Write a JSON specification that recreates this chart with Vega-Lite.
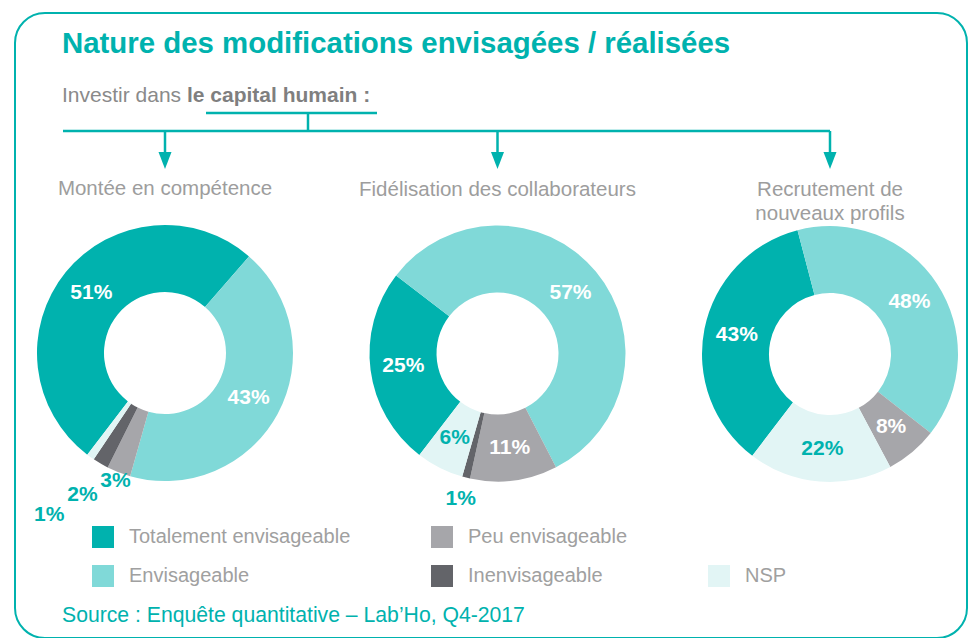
{
  "$schema": "https://vega.github.io/schema/vega-lite/v6.json",
  "width": 952,
  "height": 625,
  "autosize": {"type": "none"},
  "padding": {"left": 15, "top": 13, "right": 3, "bottom": 0},
  "background": "white",
  "title": {
    "text": "Nature des modifications envisagées / réalisées",
    "anchor": "start",
    "frame": "group",
    "orient": "top",
    "offset": -46,
    "dx": 47,
    "font": "Liberation Sans",
    "fontSize": 29.4,
    "fontWeight": "bold",
    "color": "#00B2AE"
  },
  "config": {
    "view": {"stroke": "#00B2AE", "strokeWidth": 2, "cornerRadius": 30, "fill": "white"},
    "font": "Liberation Sans"
  },
  "data": {
    "values": [
      {"chart": "Montée en compétence", "cat": "Totalement envisageable", "share": 0.51, "rang": 5},
      {"chart": "Montée en compétence", "cat": "Envisageable", "share": 0.43, "rang": 1},
      {"chart": "Montée en compétence", "cat": "Peu envisageable", "share": 0.03, "rang": 2},
      {"chart": "Montée en compétence", "cat": "Inenvisageable", "share": 0.02, "rang": 3},
      {"chart": "Montée en compétence", "cat": "NSP", "share": 0.01, "rang": 4},
      {"chart": "Fidélisation des collaborateurs", "cat": "Totalement envisageable", "share": 0.25, "rang": 5},
      {"chart": "Fidélisation des collaborateurs", "cat": "Envisageable", "share": 0.57, "rang": 1},
      {"chart": "Fidélisation des collaborateurs", "cat": "Peu envisageable", "share": 0.11, "rang": 2},
      {"chart": "Fidélisation des collaborateurs", "cat": "Inenvisageable", "share": 0.01, "rang": 3},
      {"chart": "Fidélisation des collaborateurs", "cat": "NSP", "share": 0.06, "rang": 4},
      {"chart": "Recrutement de\nnouveaux profils", "cat": "Totalement envisageable", "share": 0.43, "rang": 5},
      {"chart": "Recrutement de\nnouveaux profils", "cat": "Envisageable", "share": 0.48, "rang": 1},
      {"chart": "Recrutement de\nnouveaux profils", "cat": "Peu envisageable", "share": 0.08, "rang": 2},
      {"chart": "Recrutement de\nnouveaux profils", "cat": "NSP", "share": 0.22, "rang": 4}
    ]
  },
  "layer": [
    {
      "data": {"values": [{}]},
      "layer": [
        {"mark": {"type": "rule", "x": 48, "x2": 815, "color": "#00B2AE", "strokeWidth": 2.5}, "encoding": {"y": {"value": 118}}},
        {"mark": {"type": "rule", "y": 100, "y2": 118, "color": "#00B2AE", "strokeWidth": 2.5}, "encoding": {"x": {"value": 293}}},
        {"mark": {"type": "rule", "x": 191, "x2": 362, "color": "#00B2AE", "strokeWidth": 2.5}, "encoding": {"y": {"value": 100}}},
        {"mark": {"type": "text", "text": "Investir dans", "x": 47, "y": 89, "align": "left", "baseline": "alphabetic", "font": "Liberation Sans", "fontSize": 21, "color": "#8A8A8A"}, "encoding": {}},
        {"mark": {"type": "text", "text": "le capital humain :", "x": 172, "y": 89, "align": "left", "baseline": "alphabetic", "font": "Liberation Sans", "fontSize": 21, "fontWeight": "bold", "color": "#7F7F7F"}, "encoding": {}},
        {"mark": {"type": "text", "text": "Source : Enquête quantitative – Lab’Ho, Q4-2017", "x": 47, "y": 609, "align": "left", "baseline": "alphabetic", "font": "Liberation Sans", "fontSize": 21.2, "color": "#00B2AE"}, "encoding": {}}
      ]
    },
    {
      "transform": [{"aggregate": [{"op": "count", "as": "n"}], "groupby": ["chart"]}],
      "encoding": {
        "x": {"field": "chart", "type": "nominal", "axis": null, "scale": {"type": "point", "domain": ["Montée en compétence", "Fidélisation des collaborateurs", "Recrutement de\nnouveaux profils"], "range": [150, 815], "padding": 0}}
      },
      "layer": [
        {"mark": {"type": "text", "dy": -158, "baseline": "alphabetic", "align": "center", "lineBreak": "\n", "lineHeight": 24, "font": "Liberation Sans", "fontSize": 20.5, "color": "#9D9D9D"},
         "encoding": {
           "y": {"field": "chart", "type": "nominal", "axis": null, "scale": {"type": "point", "domain": ["Montée en compétence", "Fidélisation des collaborateurs", "Recrutement de\nnouveaux profils"], "range": [340, 341], "padding": 0}},
           "text": {"field": "chart", "type": "nominal"}
         }},
        {"mark": {"type": "rule", "y": 118, "y2": 140, "color": "#00B2AE", "strokeWidth": 2.5}},
        {"mark": {"type": "point", "shape": "M-0.5,-0.65L0.5,-0.65L0,0.65Z", "size": 676, "filled": true, "opacity": 1, "color": "#00B2AE", "y": 147.5}}
      ]
    },
    {
      "transform": [{"filter": {"field": "chart", "equal": "Montée en compétence"}}],
      "encoding": {
        "x": {"field": "chart", "type": "nominal", "axis": null, "scale": {"type": "point", "domain": ["Montée en compétence", "Fidélisation des collaborateurs", "Recrutement de\nnouveaux profils"], "range": [150, 815], "padding": 0}},
        "y": {"field": "chart", "type": "nominal", "axis": null, "scale": {"type": "point", "domain": ["Montée en compétence", "Fidélisation des collaborateurs", "Recrutement de\nnouveaux profils"], "range": [340, 341], "padding": 0}},
        "theta": {"field": "share", "type": "quantitative", "stack": true, "scale": {"range": [0.7156, 6.9988]}},
        "order": {"field": "rang", "type": "quantitative"},
        "detail": {"field": "cat", "type": "nominal"}
      },
      "layer": [
        {"mark": {"type": "arc", "innerRadius": 61, "outerRadius": 128},
         "encoding": {"color": {"field": "cat", "type": "nominal",
           "scale": {"domain": ["Totalement envisageable", "Peu envisageable", " ", "Envisageable", "Inenvisageable", "NSP"], "range": ["#00B2AE", "#A6A6AA", "#FFFFFF", "#80D9D8", "#636469", "#E2F5F5"]},
           "legend": {"title": null, "orient": "none", "legendX": 77, "legendY": 513, "direction": "horizontal", "columns": 3, "symbolType": "square", "symbolSize": 484, "symbolStrokeWidth": 0, "symbolOpacity": 1, "labelFont": "Liberation Sans", "labelFontSize": 20, "labelColor": "#A0A0A0", "labelOffset": 15, "columnPadding": 80, "rowPadding": 17, "padding": 0, "labelLimit": 400, "gridAlign": "each"}}}},
        {"mark": {"type": "text", "radius": 95, "font": "Liberation Sans", "fontSize": 21, "fontWeight": "bold", "align": "center", "baseline": "middle"},
         "encoding": {
           "text": {"condition": {"test": "datum.share >= 0.05", "field": "share", "type": "quantitative", "format": ".0%"}, "value": ""},
           "color": {"condition": {"test": "datum.cat === 'NSP'", "value": "#00B2AE"}, "value": "#FFFFFF"}
         }},
        {"mark": {"type": "text", "font": "Liberation Sans", "fontSize": 21, "fontWeight": "bold", "align": "center", "baseline": "middle", "color": "#00B2AE"},
         "encoding": {
           "text": {"condition": {"test": "datum.share < 0.05", "field": "share", "type": "quantitative", "format": ".0%"}, "value": ""},
           "radius": {"field": "share", "type": "quantitative", "scale": {"type": "sqrt", "domain": [0.01, 0.03], "range": [199, 137], "clamp": true, "zero": false}}
         }}
      ]
    },
    {
      "transform": [{"filter": {"field": "chart", "equal": "Fidélisation des collaborateurs"}}],
      "encoding": {
        "x": {"field": "chart", "type": "nominal", "axis": null, "scale": {"type": "point", "domain": ["Montée en compétence", "Fidélisation des collaborateurs", "Recrutement de\nnouveaux profils"], "range": [150, 815], "padding": 0}},
        "y": {"field": "chart", "type": "nominal", "axis": null, "scale": {"type": "point", "domain": ["Montée en compétence", "Fidélisation des collaborateurs", "Recrutement de\nnouveaux profils"], "range": [340, 341], "padding": 0}},
        "theta": {"field": "share", "type": "quantitative", "stack": true, "scale": {"range": [-0.9146, 5.3686]}},
        "order": {"field": "rang", "type": "quantitative"},
        "detail": {"field": "cat", "type": "nominal"}
      },
      "layer": [
        {"mark": {"type": "arc", "innerRadius": 61, "outerRadius": 128},
         "encoding": {"color": {"field": "cat", "type": "nominal",
           "scale": {"domain": ["Totalement envisageable", "Peu envisageable", " ", "Envisageable", "Inenvisageable", "NSP"], "range": ["#00B2AE", "#A6A6AA", "#FFFFFF", "#80D9D8", "#636469", "#E2F5F5"]},
           "legend": {"title": null, "orient": "none", "legendX": 77, "legendY": 513, "direction": "horizontal", "columns": 3, "symbolType": "square", "symbolSize": 484, "symbolStrokeWidth": 0, "symbolOpacity": 1, "labelFont": "Liberation Sans", "labelFontSize": 20, "labelColor": "#A0A0A0", "labelOffset": 15, "columnPadding": 80, "rowPadding": 17, "padding": 0, "labelLimit": 400, "gridAlign": "each"}}}},
        {"mark": {"type": "text", "radius": 95, "font": "Liberation Sans", "fontSize": 21, "fontWeight": "bold", "align": "center", "baseline": "middle"},
         "encoding": {
           "text": {"condition": {"test": "datum.share >= 0.05", "field": "share", "type": "quantitative", "format": ".0%"}, "value": ""},
           "color": {"condition": {"test": "datum.cat === 'NSP'", "value": "#00B2AE"}, "value": "#FFFFFF"}
         }},
        {"mark": {"type": "text", "radius": 150, "font": "Liberation Sans", "fontSize": 21, "fontWeight": "bold", "align": "center", "baseline": "middle", "color": "#00B2AE"},
         "encoding": {
           "text": {"condition": {"test": "datum.share < 0.05", "field": "share", "type": "quantitative", "format": ".0%"}, "value": ""}
         }}
      ]
    },
    {
      "transform": [{"filter": {"field": "chart", "equal": "Recrutement de\nnouveaux profils"}}],
      "encoding": {
        "x": {"field": "chart", "type": "nominal", "axis": null, "scale": {"type": "point", "domain": ["Montée en compétence", "Fidélisation des collaborateurs", "Recrutement de\nnouveaux profils"], "range": [150, 815], "padding": 0}},
        "y": {"field": "chart", "type": "nominal", "axis": null, "scale": {"type": "point", "domain": ["Montée en compétence", "Fidélisation des collaborateurs", "Recrutement de\nnouveaux profils"], "range": [340, 341], "padding": 0}},
        "theta": {"field": "share", "type": "quantitative", "stack": true, "scale": {"range": [-0.2566, 6.0266]}},
        "order": {"field": "rang", "type": "quantitative"},
        "detail": {"field": "cat", "type": "nominal"}
      },
      "layer": [
        {"mark": {"type": "arc", "innerRadius": 61, "outerRadius": 128},
         "encoding": {"color": {"field": "cat", "type": "nominal",
           "scale": {"domain": ["Totalement envisageable", "Peu envisageable", " ", "Envisageable", "Inenvisageable", "NSP"], "range": ["#00B2AE", "#A6A6AA", "#FFFFFF", "#80D9D8", "#636469", "#E2F5F5"]},
           "legend": {"title": null, "orient": "none", "legendX": 77, "legendY": 513, "direction": "horizontal", "columns": 3, "symbolType": "square", "symbolSize": 484, "symbolStrokeWidth": 0, "symbolOpacity": 1, "labelFont": "Liberation Sans", "labelFontSize": 20, "labelColor": "#A0A0A0", "labelOffset": 15, "columnPadding": 80, "rowPadding": 17, "padding": 0, "labelLimit": 400, "gridAlign": "each"}}}},
        {"mark": {"type": "text", "radius": 95, "font": "Liberation Sans", "fontSize": 21, "fontWeight": "bold", "align": "center", "baseline": "middle"},
         "encoding": {
           "text": {"condition": {"test": "datum.share >= 0.05", "field": "share", "type": "quantitative", "format": ".0%"}, "value": ""},
           "color": {"condition": {"test": "datum.cat === 'NSP'", "value": "#00B2AE"}, "value": "#FFFFFF"}
         }}
      ]
    }
  ],
  "resolve": {"scale": {"theta": "independent", "radius": "independent"}}
}
